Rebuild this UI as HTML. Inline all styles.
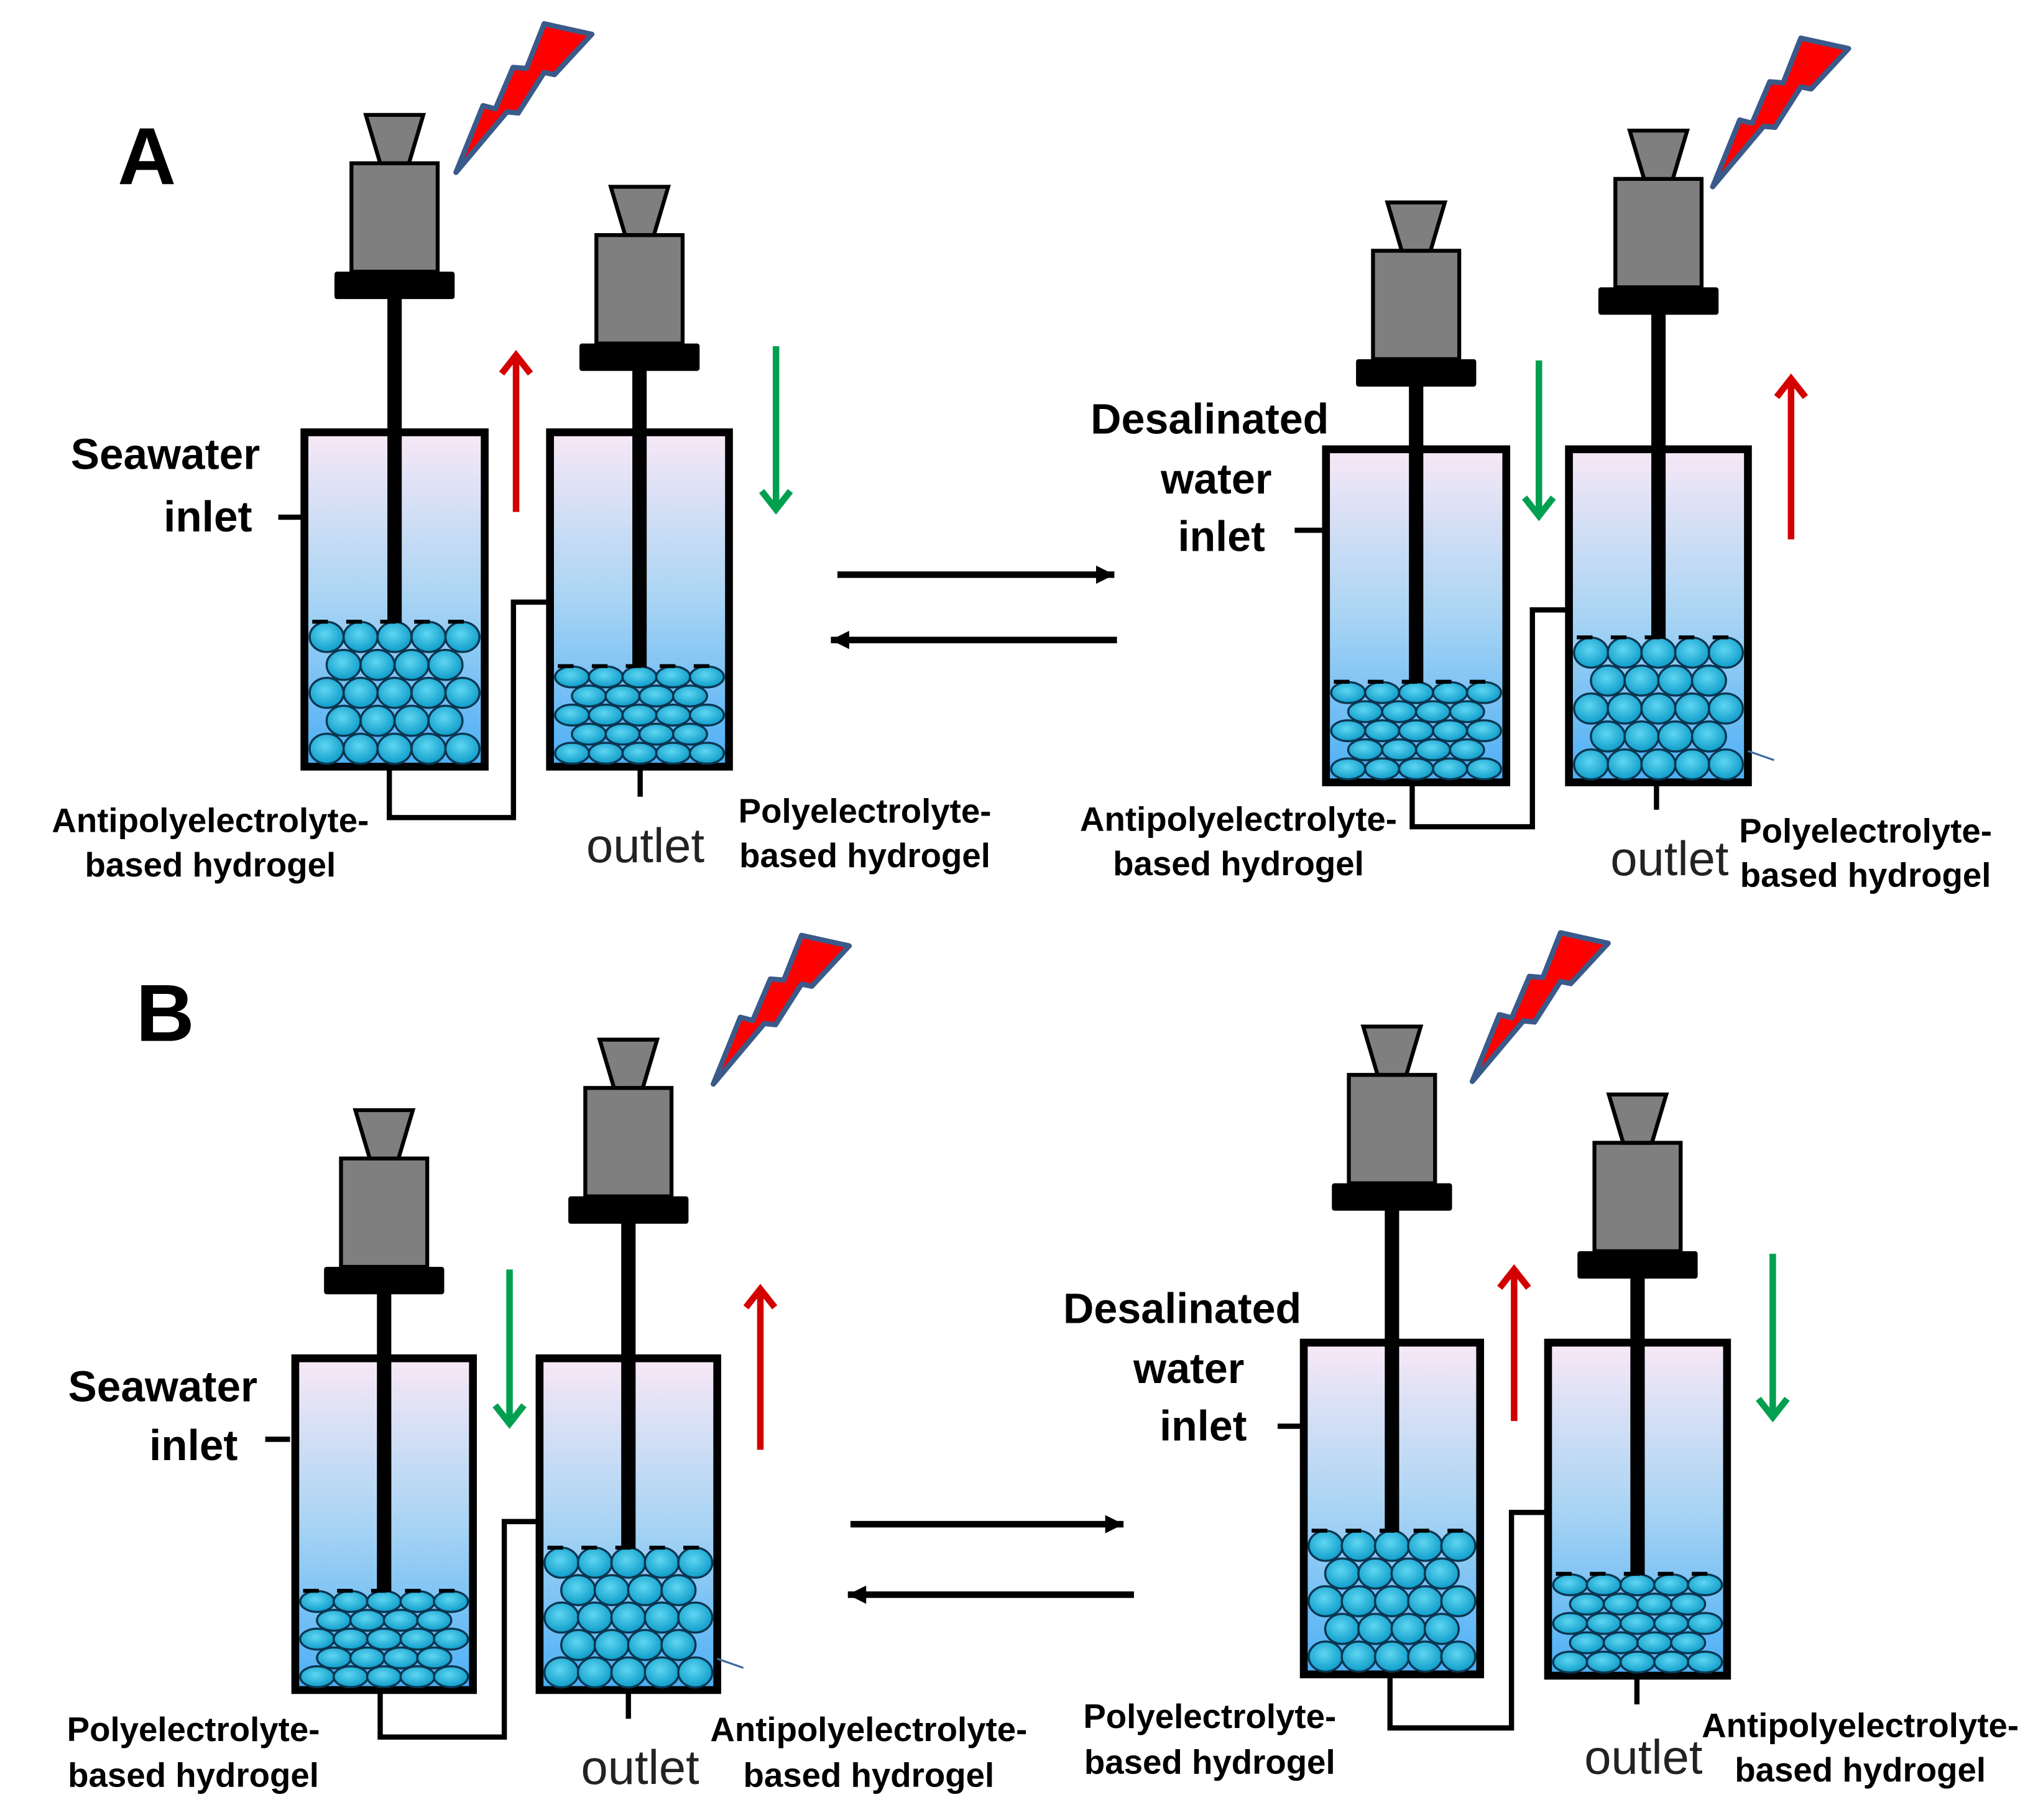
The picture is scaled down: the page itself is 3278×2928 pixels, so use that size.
<!DOCTYPE html>
<html><head><meta charset="utf-8">
<style>
html,body{margin:0;padding:0;background:#fff;}
svg{display:block;}
text{font-family:"Liberation Sans","DejaVu Sans",sans-serif;}
</style></head>
<body>
<svg id="s" width="3278" height="2928" viewBox="0 0 1560 1393.5" xmlns="http://www.w3.org/2000/svg">
<defs>
<linearGradient id="liq" x1="0" y1="0" x2="0" y2="1">
<stop offset="0" stop-color="#f8e8f6"/>
<stop offset="0.5" stop-color="#a9d4f4"/>
<stop offset="1" stop-color="#4aaef5"/>
</linearGradient>
<radialGradient id="bead" cx="0.45" cy="0.4" r="0.6">
<stop offset="0" stop-color="#5fd6f2"/>
<stop offset="1" stop-color="#0e9cc9"/>
</radialGradient>
</defs>
<rect width="1560" height="1393.5" fill="#fff"/>
<g id="g"></g>
<g font-weight="bold" fill="#000">
<text x="90" y="141" font-size="62">A</text>
<text x="104" y="797" font-size="62">B</text>
<g font-size="33" text-anchor="end">
<text x="199" y="359">Seawater</text><text x="193" y="407">inlet</text>
<text x="197" y="1073">Seawater</text><text x="182" y="1118">inlet</text>
</g>
<g font-size="32.5" text-anchor="middle">
<text x="926" y="332">Desalinated</text><text x="931" y="378">water</text><text x="935" y="422">inlet</text>
<text x="905" y="1013">Desalinated</text><text x="910" y="1059">water</text><text x="921" y="1103">inlet</text>
</g>
<g font-size="26" text-anchor="middle">
<text x="161" y="637">Antipolyelectrolyte-</text><text x="161" y="671">based hydrogel</text>
<text x="662" y="630">Polyelectrolyte-</text><text x="662" y="664">based hydrogel</text>
<text x="948" y="636">Antipolyelectrolyte-</text><text x="948" y="670">based hydrogel</text>
<text x="1428" y="645">Polyelectrolyte-</text><text x="1428" y="679">based hydrogel</text>
<text x="148" y="1333">Polyelectrolyte-</text><text x="148" y="1368">based hydrogel</text>
<text x="665" y="1333">Antipolyelectrolyte-</text><text x="665" y="1368">based hydrogel</text>
<text x="926" y="1323">Polyelectrolyte-</text><text x="926" y="1358">based hydrogel</text>
<text x="1424" y="1330">Antipolyelectrolyte-</text><text x="1424" y="1364">based hydrogel</text>
</g>
</g>
<g font-size="37" text-anchor="middle" fill="#222">
<text x="494" y="660">outlet</text>
<text x="1278" y="670">outlet</text>
<text x="490" y="1366">outlet</text>
<text x="1258" y="1358">outlet</text>
</g>
</svg>
<script>
var NS="http://www.w3.org/2000/svg",G=document.getElementById('g');
function el(t,a){var e=document.createElementNS(NS,t);for(var k in a)e.setAttribute(k,a[k]);G.appendChild(e);return e;}
function cell(x1,x2,y1,y2,py,big,by){
  var cx=(x1+x2)/2,w=x2-x1;
  el('rect',{x:x1,y:y1,width:w,height:y2-y1,fill:'url(#liq)',stroke:'#000','stroke-width':6});
  var rows=5,ih=(y2-3)-by,rh=ih/rows,rx=13,ry=big?11.5:8;
  var inL=x1+4,inR=x2-4,iw=inR-inL;
  for(var r=0;r<rows;r++){
    var yy=by+rh*(r+0.5);
    var n=(r%2==0)?5:4;var off=(r%2==0)?0:iw/10;
    var step=iw/5;
    for(var i=0;i<n;i++){
      var xx=inL+step*(i+0.5)+off;
      el('ellipse',{cx:xx,cy:yy,rx:rx,ry:ry,fill:'url(#bead)',stroke:'#0b3550','stroke-width':1.6});
    }
  }
  el('line',{x1:x1+6,x2:x2-6,y1:by-1,y2:by-1,stroke:'#000','stroke-width':3,'stroke-dasharray':'12 14'});
  el('line',{x1:cx,x2:cx,y1:py+20,y2:by,stroke:'#000','stroke-width':11});
  el('rect',{x:cx-46,y:py,width:92,height:21,rx:2,fill:'#000'});
  el('rect',{x:cx-33,y:py-83,width:66,height:83,fill:'#7f7f7f',stroke:'#000','stroke-width':3});
  el('polygon',{points:(cx-22)+','+(py-120)+' '+(cx+22)+','+(py-120)+' '+(cx+11)+','+(py-83)+' '+(cx-11)+','+(py-83),fill:'#7f7f7f',stroke:'#000','stroke-width':3});
}
function pl(pts,w,c){el('polyline',{points:pts,fill:'none',stroke:c||'#000','stroke-width':w||4});}
function arrow(x,y1,y2,c){pl(x+','+y1+' '+x+','+y2,5,c);var d=y2<y1?1:-1;pl((x-11)+','+(y2+14*d)+' '+x+','+y2+' '+(x+11)+','+(y2+14*d),5,c);}
function harrow(x1,x2,y){pl(x1+','+y+' '+x2+','+y,5);var d=x2>x1?-1:1;el('polygon',{points:x2+','+y+' '+(x2+14*d)+','+(y-7)+' '+(x2+14*d)+','+(y+7),fill:'#000'});}
function bolt(x,y){var p=[[0,0],[20.7,-51.1],[30.2,-48.7],[43.7,-80.4],[54,-79.6],[67.5,-113.8],[104,-105.8],[75.4,-74.9],[67.5,-76.5],[47.7,-45.5],[39,-46.3]];
 el('polygon',{points:p.map(function(q){return (x+q[0])+','+(y+q[1]);}).join(' '),fill:'#ff0000',stroke:'#3a5a8a','stroke-width':4,'stroke-linejoin':'round'});}
pl('298,587 298,626 393,626 393,461 421,461',4);
pl('213,396 233,396',4);pl('490,587 490,610',4);
cell(233,371,331,587,208,true,477);
cell(421,558,331,587,263,false,511);
arrow(395,392,272,'#d40000');arrow(594,265,390,'#00a050');
bolt(349,132);
harrow(641,853,440);harrow(855,636,490);
pl('1081,599 1081,633 1173,633 1173,467 1201,467',4);
pl('991,406 1012,406',4);pl('1268,599 1268,620',4);
cell(1015,1153,344,599,275,false,523);
cell(1201,1338,344,599,220,true,489);
arrow(1178,276,395,'#00a050');arrow(1371,413,290,'#d40000');
bolt(1311,143);
pl('1338,575 1358,582',1.5,'#3a6aa0');
pl('291,1294 291,1330 386,1330 386,1165 413,1165',4);
pl('203,1102 222,1102',4);pl('481,1294 481,1316',4);
cell(226,362,1040,1294,970,false,1219);
cell(413,549,1040,1294,916,true,1186);
arrow(390,972,1090,'#00a050');arrow(582,1110,987,'#d40000');
bolt(546,830);
pl('549,1270 569,1277',1.5,'#3a6aa0');
harrow(651,860,1167);harrow(868,649,1221);
pl('1064,1282 1064,1323 1157,1323 1157,1158 1185,1158',4);
pl('978,1092 997,1092',4);pl('1253,1283 1253,1305',4);
cell(998,1133,1028,1282,906,true,1173);
cell(1185,1322,1028,1283,958,false,1206);
arrow(1159,1088,972,'#d40000');arrow(1357,960,1085,'#00a050');
bolt(1127,828);
</script>
</body></html>
